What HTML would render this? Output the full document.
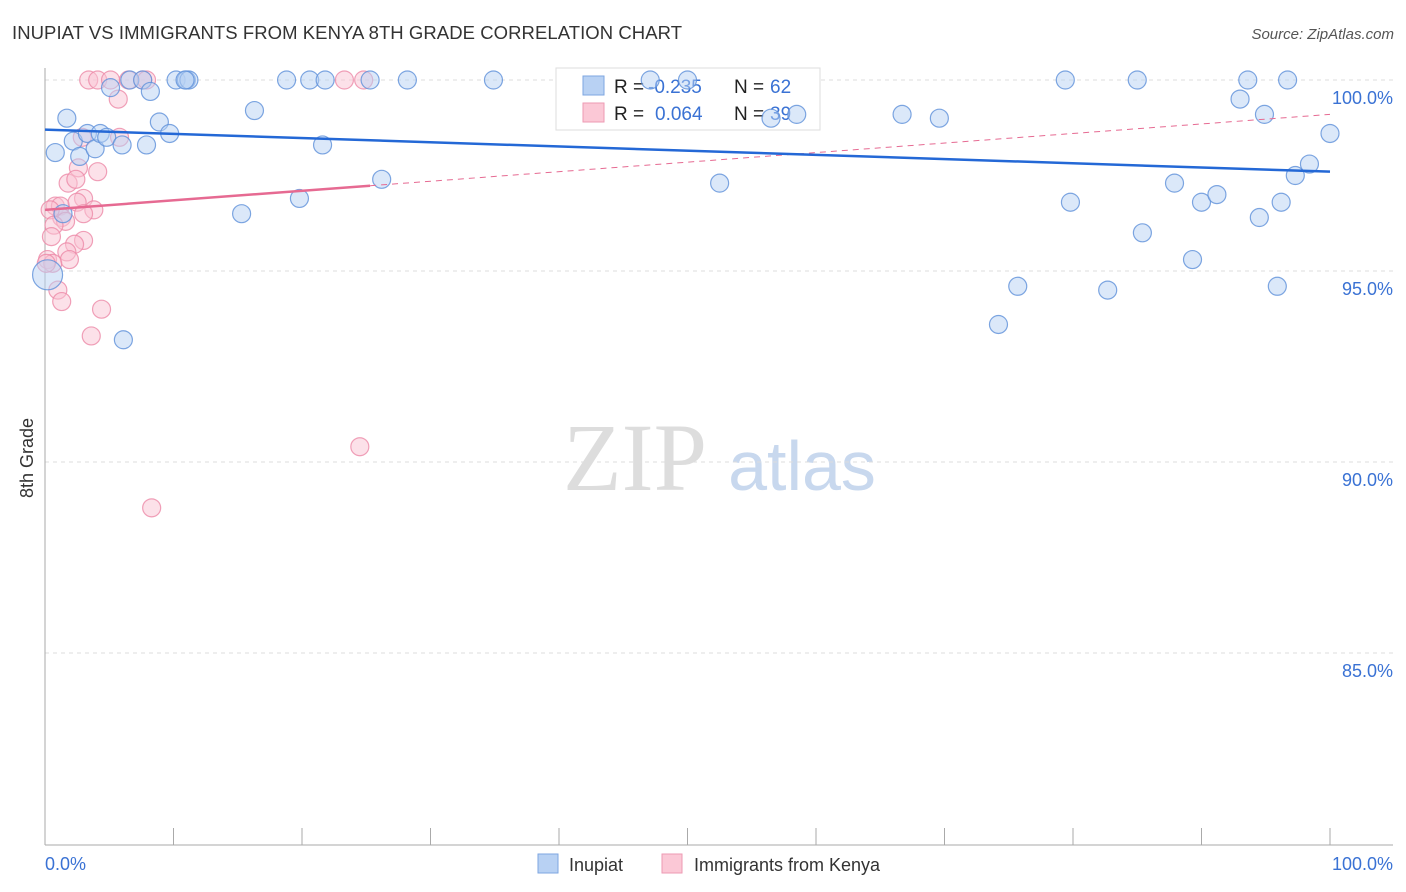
<!DOCTYPE html>
<html><head><meta charset="utf-8"><style>
body{margin:0;background:#fff;font-family:"Liberation Sans",sans-serif}
svg{display:block}
</style></head><body>
<svg width="1406" height="892" id="chart">
<text x="12" y="39" font-size="18.5" fill="#333" textLength="670">INUPIAT VS IMMIGRANTS FROM KENYA 8TH GRADE CORRELATION CHART</text>
<text x="1394" y="39" font-size="15" fill="#555" text-anchor="end" font-style="italic">Source: ZipAtlas.com</text>
<text x="33" y="458" font-size="18" fill="#333" transform="rotate(-90 33 458)" text-anchor="middle">8th Grade</text>
<g><text x="635" y="490" font-size="96" fill="#ddd" font-family="Liberation Serif" text-anchor="middle">ZIP</text><text x="802" y="490" font-size="70" fill="#c8d8ee" text-anchor="middle">atlas</text></g>
<g id="grid"></g><g id="axes"></g>
<g>
<rect x="556" y="68" width="264" height="62" fill="#fff" stroke="#ddd"/>
<rect x="583" y="76" width="21" height="19" fill="#b8d1f3" stroke="#7ea6e0"/>
<rect x="583" y="103" width="21" height="19" fill="#fbc8d6" stroke="#ee9ab3"/>
<text x="614" y="93" font-size="19" fill="#222">R =</text>
<text x="648" y="93" font-size="19" fill="#3a72d4">-0.235</text>
<text x="734" y="93" font-size="19" fill="#222">N =</text>
<text x="770" y="93" font-size="19" fill="#3a72d4">62</text>
<text x="614" y="120" font-size="19" fill="#222">R =</text>
<text x="655" y="120" font-size="19" fill="#3a72d4">0.064</text>
<text x="734" y="120" font-size="19" fill="#222">N =</text>
<text x="770" y="120" font-size="19" fill="#3a72d4">39</text>
</g>
<g id="marks"></g>
<g>
<rect x="538" y="854" width="20" height="19" fill="#b8d1f3" stroke="#7ea6e0"/>
<text x="569" y="871" font-size="18" fill="#333">Inupiat</text>
<rect x="662" y="854" width="20" height="19" fill="#fbc8d6" stroke="#ee9ab3"/>
<text x="694" y="871" font-size="18" fill="#333">Immigrants from Kenya</text>
</g>
</svg>
<script>
const blueX=[1.7,0.8,2.2,2.7,3.3,3.9,4.3,4.8,6.0,5.1,6.6,7.6,8.2,7.9,8.9,9.7,6.1,10.2,11.0,11.2,15.3,16.3,18.8,19.8,20.6,21.6,21.8,25.3,26.2,28.2,34.9,47.1,50.0,52.5,56.5,58.5,66.7,69.6,74.2,75.7,79.4,79.8,82.7,85.0,85.4,87.9,89.3,90.0,91.2,93.0,93.6,94.5,94.9,95.9,96.2,96.7,97.3,98.4,100,0.2,1.4,10.9];
const blueY=[99.0,98.1,98.4,98.0,98.6,98.2,98.6,98.5,98.3,99.8,100,100,99.7,98.3,98.9,98.6,93.2,100,100,100,96.5,99.2,100,96.9,100,98.3,100,100,97.4,100,100,100,100,97.3,99.0,99.1,99.1,99.0,93.6,94.6,100,96.8,94.5,100,96.0,97.3,95.3,96.8,97.0,99.5,100,96.4,99.1,94.6,96.8,100,97.5,97.8,98.6,94.9,96.5,100];
const pinkX=[3.4,4.1,5.1,6.5,7.6,7.9,23.3,24.8,5.7,2.9,5.8,2.6,4.1,1.8,2.4,3.0,0.8,1.2,2.5,3.8,1.3,1.6,3.0,0.4,0.7,0.5,3.0,2.3,1.7,1.9,0.2,0.6,1.0,1.3,4.4,3.6,24.5,8.3,0.1];
const pinkY=[100,100,100,100,100,100,100,100,99.5,98.5,98.5,97.7,97.6,97.3,97.4,96.9,96.7,96.7,96.8,96.6,96.4,96.3,96.5,96.6,96.2,95.9,95.8,95.7,95.5,95.3,95.3,95.2,94.5,94.2,94.0,93.3,90.4,88.8,95.2];
const blueTrend=[98.7,97.6];
const pinkTrend=[96.6,99.1];
const pinkSolidEnd=25.3;
const yTicks=[100,95,90,85];
const xTickLabels=["0.0%","100.0%"];
const NS="http://www.w3.org/2000/svg";
const X0=45,X1=1330,Y100=80,PY=38.2;
const sx=v=>X0+(X1-X0)*v/100;
const sy=v=>Y100+(100-v)*PY;
function mk(tag,attrs,parent){const e=document.createElementNS(NS,tag);for(const k in attrs)e.setAttribute(k,attrs[k]);parent.appendChild(e);return e;}
const grid=document.getElementById('grid'),axes=document.getElementById('axes'),marks=document.getElementById('marks');
yTicks.forEach(t=>{
 const l=mk('line',{x1:X0,x2:1393,y1:sy(t),y2:sy(t),stroke:'#ddd','stroke-dasharray':'4,4'},grid);
 
 
 const tx=mk('text',{x:1393,y:sy(t)+24,'font-size':18,fill:'#3a72d4','text-anchor':'end'},grid);
 tx.textContent=t.toFixed(1)+'%';
 
 
});
const ya=mk('line',{x1:X0,x2:X0,y1:68,y2:845,stroke:'#aaa'},axes);


const xa=mk('line',{x1:X0,x2:1393,y1:845,y2:845,stroke:'#aaa'},axes);


for(let i=0;i<=10;i++){const t=mk('line',{x1:sx(i*10),x2:sx(i*10),y1:828,y2:845,stroke:'#aaa'},axes);
 
 }
[[0,'start',45],[100,'end',1393]].forEach((d,i)=>{const t=mk('text',{x:d[2],y:870,'font-size':18,fill:'#3a72d4','text-anchor':d[1]},axes);t.textContent=xTickLabels[i];
 
 });
function dots(xs,ys,fill,stroke,name){xs.forEach((x,i)=>{const big=(x<0.3&&ys[i]<95.5&&name==='inupiat-point');
 const c=mk('circle',{cx:sx(x),cy:sy(ys[i]),r:big?15:9,fill:fill,'fill-opacity':0.5,stroke:stroke,'stroke-opacity':0.8,'stroke-width':1.2},marks);
 
 });}
dots(pinkX,pinkY,'#f9c4d3','#ec8aa8','kenya-point');
dots(blueX,blueY,'#b8d1f3','#5e90da','inupiat-point');
const pt=v=>pinkTrend[0]+(pinkTrend[1]-pinkTrend[0])*v/100;
const pd=mk('line',{x1:sx(pinkSolidEnd),y1:sy(pt(pinkSolidEnd)),x2:sx(100),y2:sy(pinkTrend[1]),stroke:'#e66a92','stroke-width':1,'stroke-dasharray':'6,5'},marks);


const ps=mk('line',{x1:sx(0),y1:sy(pinkTrend[0]),x2:sx(pinkSolidEnd),y2:sy(pt(pinkSolidEnd)),stroke:'#e66a92','stroke-width':2.5},marks);


const bt=mk('line',{x1:sx(0),y1:sy(blueTrend[0]),x2:sx(100),y2:sy(blueTrend[1]),stroke:'#2468d6','stroke-width':2.5},marks);


</script>
</body></html>
